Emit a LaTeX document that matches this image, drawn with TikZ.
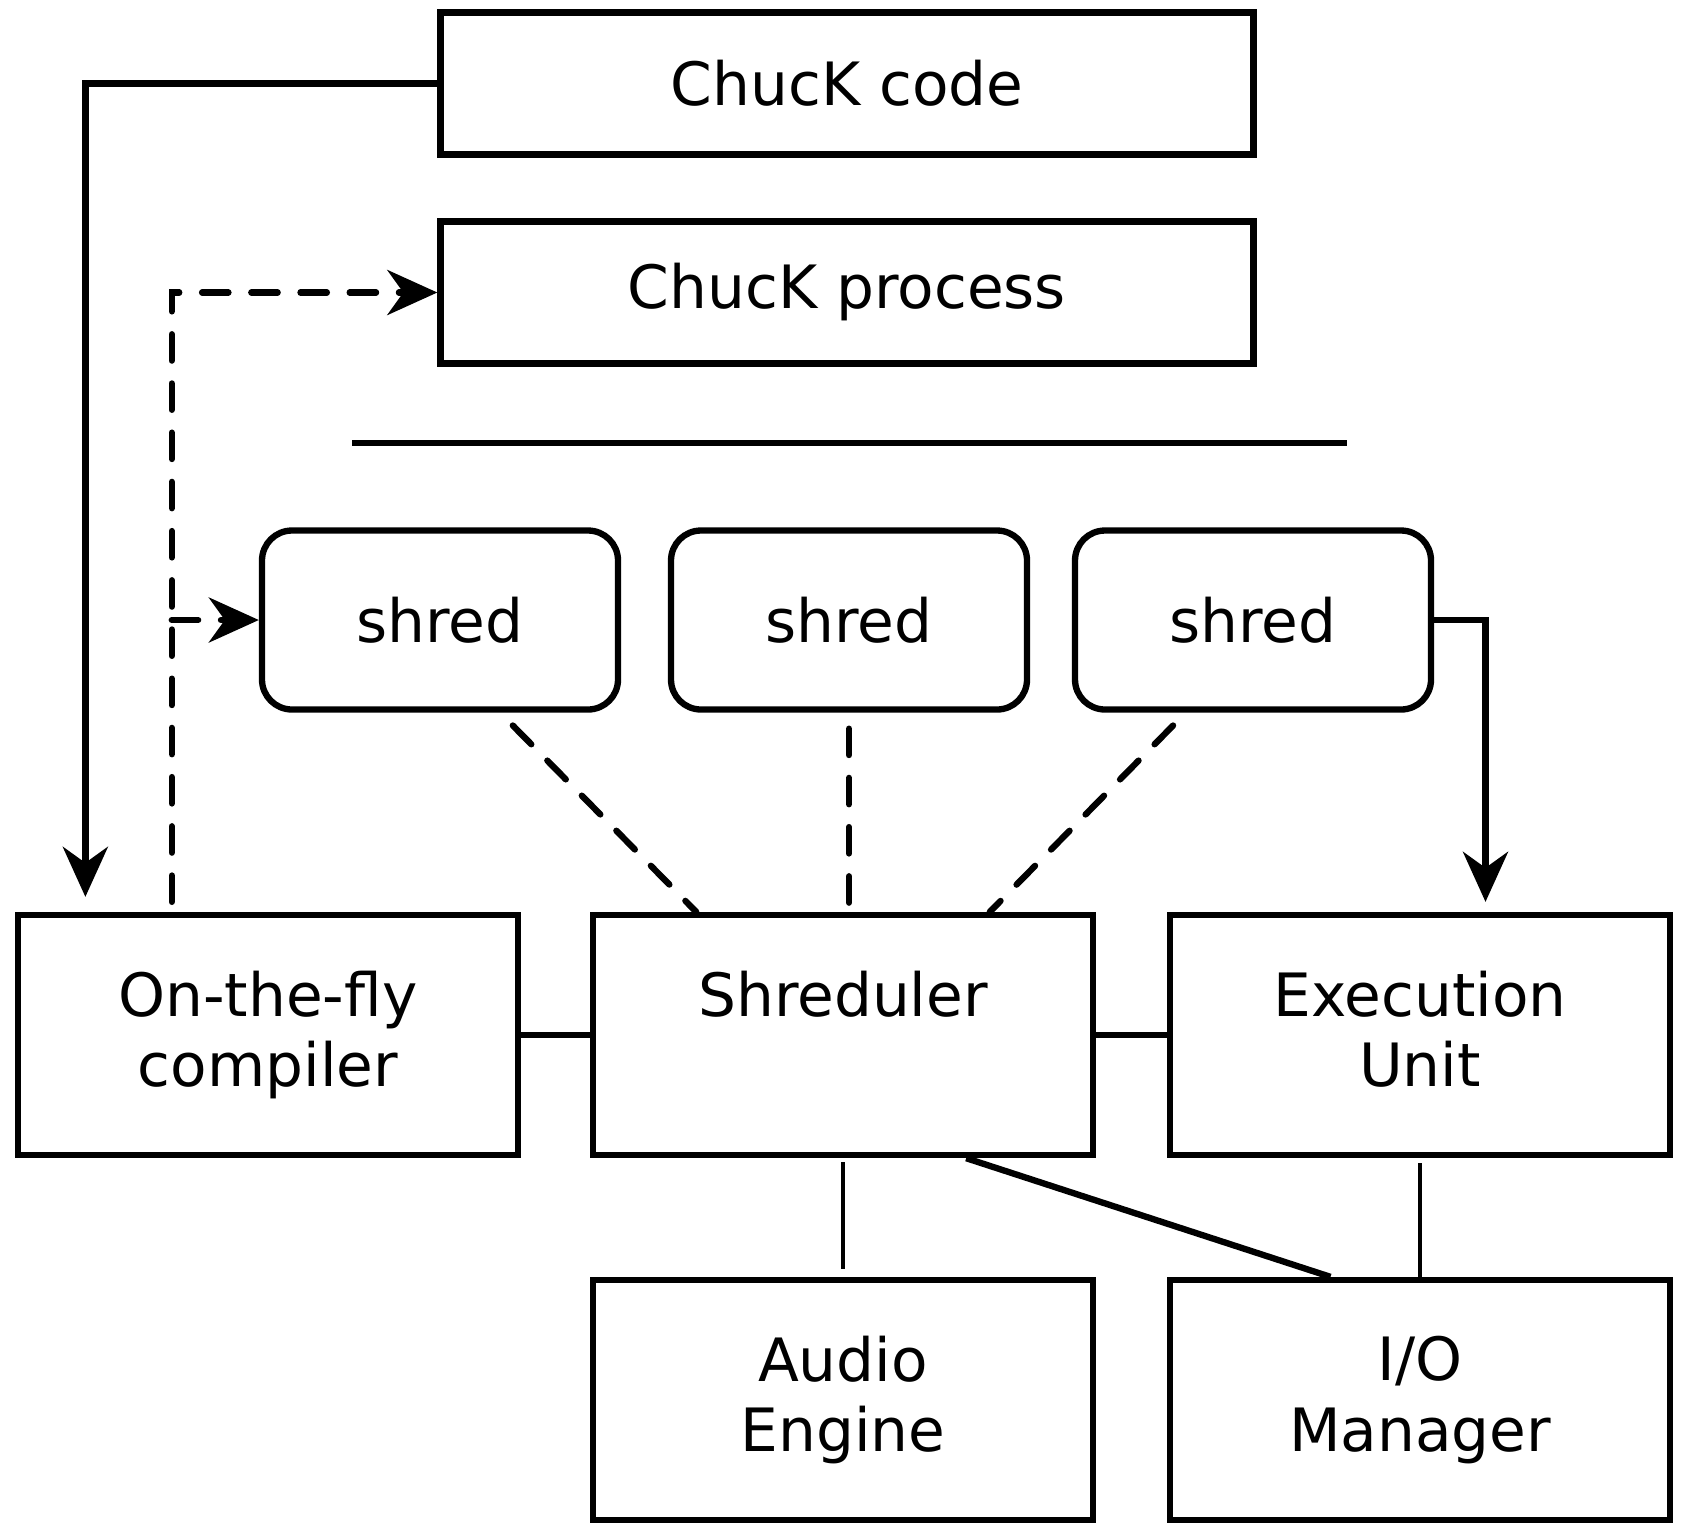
\documentclass[tikz,border=0pt]{standalone}
\usepackage{fontspec}
\setmainfont{DejaVu Sans}
\usepackage{tikz}
\usetikzlibrary{arrows.meta}
\usetikzlibrary{positioning}
\tikzset{block/.style = {draw, line width = 1.8pt, minimum width = 5cm, minimum height = 2.4cm, align = center, inner sep = 0}}
\tikzset{codebox/.style = {block, minimum width = 8.13cm, minimum height = 1.42cm}}
\tikzset{shredbox/.style = {block, rounded corners = 0.3cm, minimum width = 3.56cm, minimum height = 1.79cm}}
\tikzset{link/.style = {line width = 1.8pt}}
\tikzset{thinlink/.style = {line width = 1.4pt}}
\tikzset{dashlink/.style = {line width = 1.8pt, line cap = round, dash pattern = on 7.5pt off 6.5pt}}
\tikzset{tip/.style = {-{Stealth[length = 0.5cm, width = 0.45cm, inset = 0.16cm]}}}

\begin{document}
\begin{tikzpicture}[font = \fontsize{17}{20}\selectfont]
      \useasboundingbox (0, 0) rectangle (16.84, -15.32);
      \node [codebox] (code) at (8.47, -0.835) {ChucK code};
      \node [codebox] (process) at (8.47, -2.925) {ChucK process};
      \draw [link] (3.52, -4.43) -- (13.47, -4.43);
      \node [shredbox] (shred1) at (4.40, -6.20) {shred};
      \node [shredbox] (shred2) at (8.49, -6.20) {shred};
      \node [shredbox] (shred3) at (12.53, -6.20) {shred};
      \node [block] (compiler) at (2.68, -10.35) {On-the-fly\\compiler};
      \node [block] (shreduler) at (8.43, -10.35) {Shreduler\\\phantom{g}};
      \node [block] (exec) at (14.2, -10.35) {Execution\\Unit\vphantom{g}};
      \node [block] (audio) at (8.43, -14.00) {Audio\\Engine};
      \node [block] (io) at (14.2, -14.00) {I/O\\Manager};
      % code goes to the compiler
      \draw [link, tip, shorten >= 0.15cm] (code.west) -| (compiler.146);
      % compiler spawns processes and shreds
      \draw [dashlink, tip, shorten <= 0.1cm] (compiler.128) |- (process.west);
      \draw [dashlink, tip] (compiler.128 |- shred1.west) -- (shred1.west);
      \draw [dashlink, shorten <= 0.18cm] (shred1.-57) -- (shreduler.140);
      \draw [dashlink, shorten <= 0.16cm, shorten >= 0.05cm] (shred2.south) -- (shred2.south |- shreduler.north);
      \draw [dashlink, shorten <= 0.18cm] (shred3.-126) -- (shreduler.40);
      \draw [link, tip, shorten >= 0.1cm] (shred3.east) -| (exec.62);
      % connections between the units
      \draw [link] (compiler.east) -- (shreduler.west);
      \draw [link] (shreduler.east) -- (exec.west);
      \draw [thinlink, shorten <= 0.04cm, shorten >= 0.08cm] (shreduler.south) -- (audio.north);
      \draw [link] (shreduler.-45) -- (io.126);
      \draw [thinlink, shorten <= 0.05cm] (exec.south) -- (io.north);
    \end{tikzpicture}
\end{document}
